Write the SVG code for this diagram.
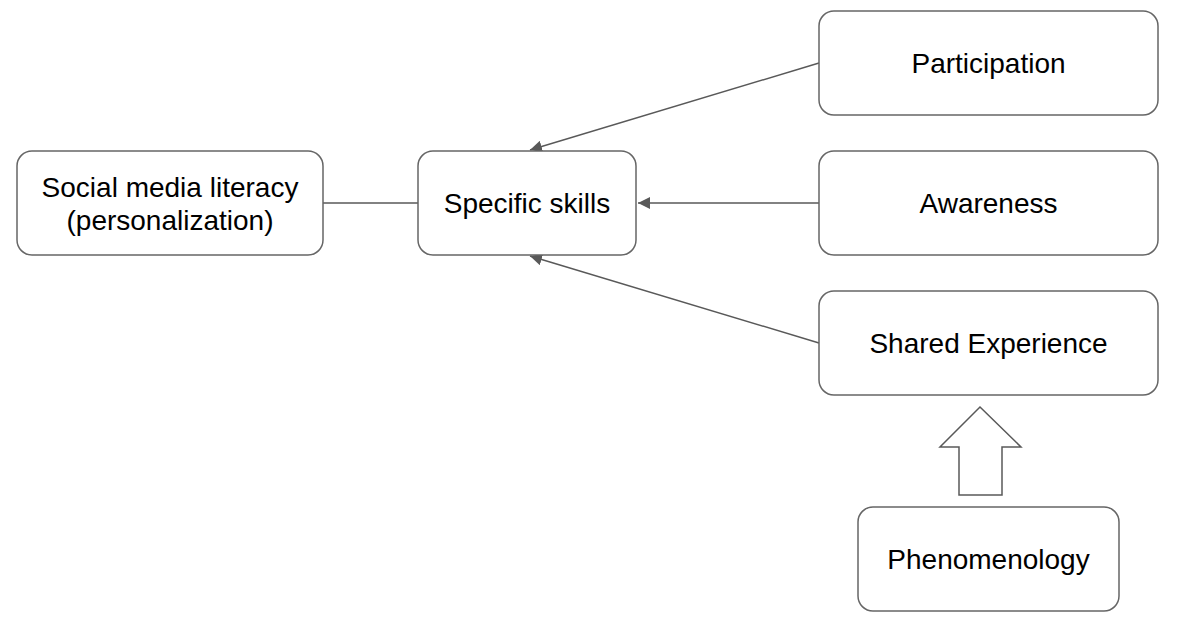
<svg xmlns="http://www.w3.org/2000/svg" width="1192" height="624" viewBox="0 0 1192 624">
<defs>
<style>
.box{fill:#ffffff;stroke:#666666;stroke-width:1.5}
.lbl{font-family:"Liberation Sans",Arial,sans-serif;font-size:28px;fill:#000000;text-anchor:middle}
.conn{stroke:#595959;stroke-width:1.5;fill:none}
</style>
<marker id="ah" viewBox="0 0 12 12" refX="12" refY="6" markerWidth="12" markerHeight="12" markerUnits="userSpaceOnUse" orient="auto">
<path d="M0,0 L12,6 L0,12 z" fill="#595959"/>
</marker>
</defs>
<rect width="1192" height="624" fill="#ffffff"/>
<g id="connectors">
<line class="conn" x1="323" y1="203" x2="418" y2="203"/>
<line class="conn" x1="819" y1="63" x2="530" y2="150" marker-end="url(#ah)"/>
<line class="conn" x1="819" y1="203" x2="638" y2="203" marker-end="url(#ah)"/>
<line class="conn" x1="819" y1="343" x2="530" y2="256" marker-end="url(#ah)"/>
<path id="block-arrow" d="M980,407 L1021,447 L1002,447 L1002,495 L959,495 L959,447 L940,447 Z" fill="#ffffff" stroke="#595959" stroke-width="1.5"/>
</g>
<g id="social">
<rect class="box" x="17" y="151" width="306" height="104" rx="15"/>
<text class="lbl" x="170" y="197">Social media literacy</text>
<text class="lbl" x="170" y="230">(personalization)</text>
</g>
<g id="skills">
<rect class="box" x="418" y="151" width="218" height="104" rx="15"/>
<text class="lbl" x="527" y="213">Specific skills</text>
</g>
<g id="participation">
<rect class="box" x="819" y="11" width="339" height="104" rx="15"/>
<text class="lbl" x="988.5" y="73">Participation</text>
</g>
<g id="awareness">
<rect class="box" x="819" y="151" width="339" height="104" rx="15"/>
<text class="lbl" x="988.5" y="213">Awareness</text>
</g>
<g id="shared">
<rect class="box" x="819" y="291" width="339" height="104" rx="15"/>
<text class="lbl" x="988.5" y="353">Shared Experience</text>
</g>
<g id="phenomenology">
<rect class="box" x="858" y="507" width="261" height="104" rx="15"/>
<text class="lbl" x="988.5" y="569">Phenomenology</text>
</g>
</svg>
